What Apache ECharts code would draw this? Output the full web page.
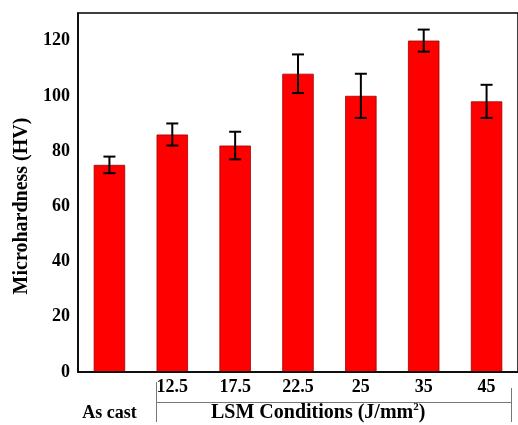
<!DOCTYPE html>
<html><head><meta charset="utf-8">
<script src="https://cdn.jsdelivr.net/npm/echarts@6/dist/echarts.min.js"></script>
<style>html,body{margin:0;padding:0;background:#fff}#c{width:518px;height:425px}</style>
</head><body><div id="c"></div>
<script>
var categories = ['As cast', '12.5', '17.5', '22.5', '25', '35', '45'];
var hardness = [75, 86, 82, 108, 100, 120, 98];
var errors = [3, 4, 5, 7, 8, 4, 6];
var yTicks = [0, 20, 40, 60, 80, 100, 120];

var chart = echarts.init(document.getElementById('c'), null, {renderer: 'canvas'});
var font = '"Liberation Serif", "Times New Roman", serif';
var errData = hardness.map(function (v, i) { return [i, v - errors[i], v + errors[i]]; });

chart.setOption({
  animation: false,
  backgroundColor: '#fff',
  grid: {left: 78, top: 13, width: 448, height: 359, show: true, borderColor: '#000', borderWidth: 1.5, backgroundColor: 'transparent'},
  xAxis: {
    type: 'category', data: categories, z: 5,
    axisLine: {lineStyle: {color: '#000', width: 1.5}},
    axisTick: {inside: true, alignWithLabel: true, interval: 0, length: 5, lineStyle: {color: '#000', width: 1.2}},
    axisLabel: {
      interval: 0, hideOverlap: false,
      color: '#000', fontFamily: font, fontWeight: 'bold', fontSize: 18, margin: 6,
      formatter: function (v, i) { return i === 0 ? '{a|' + v + '}' : v; },
      rich: {a: {fontFamily: font, fontWeight: 'bold', fontSize: 18, color: '#000', padding: [26, 0, 0, 0]}}
    }
  },
  yAxis: {
    type: 'value', min: 0, max: 130, interval: 20, z: 5,
    splitLine: {show: false},
    axisLine: {show: true, lineStyle: {color: '#000', width: 1.5}},
    axisTick: {inside: true, length: 5, lineStyle: {color: '#000', width: 1.2}},
    axisLabel: {
      color: '#000', fontFamily: font, fontWeight: 'bold', fontSize: 18, margin: 8,
      formatter: function (v) { return yTicks.indexOf(v) >= 0 ? String(v) : ''; }
    }
  },
  series: [{
    type: 'bar', data: hardness, barWidth: '50%',
    itemStyle: {color: '#ff0000', borderColor: '#a00000', borderWidth: 0.8}
  }, {
    type: 'custom', data: errData, z: 10,
    renderItem: function (params, api) {
      var x = api.value(0);
      var lo = api.coord([x, api.value(1)]);
      var hi = api.coord([x, api.value(2)]);
      var hw = 6;
      var st = {stroke: '#000', lineWidth: 2};
      return {type: 'group', children: [
        {type: 'line', shape: {x1: lo[0], y1: lo[1], x2: hi[0], y2: hi[1]}, style: st},
        {type: 'line', shape: {x1: hi[0] - hw, y1: hi[1], x2: hi[0] + hw, y2: hi[1]}, style: st},
        {type: 'line', shape: {x1: lo[0] - hw, y1: lo[1], x2: lo[0] + hw, y2: lo[1]}, style: st}
      ]};
    }
  }],
  graphic: [
    {type: 'text', x: 22, y: 206, rotation: Math.PI / 2, style: {
      text: 'Microhardness (HV)', fill: '#000', font: 'bold 20px ' + font,
      align: 'center', verticalAlign: 'middle'
    }},
    {type: 'line', shape: {x1: 156.5, y1: 382, x2: 156.5, y2: 422}, style: {stroke: '#777', lineWidth: 1}},
    {type: 'line', shape: {x1: 157, y1: 402.5, x2: 512, y2: 402.5}, style: {stroke: '#777', lineWidth: 1}},
    {type: 'line', shape: {x1: 511.5, y1: 388, x2: 511.5, y2: 422}, style: {stroke: '#777', lineWidth: 1}},
    {type: 'text', left: 211, top: 402, style: {
      text: '{t|LSM Conditions (J/mm}{s|2}{t|)}', fill: '#000',
      rich: {
        t: {fontFamily: font, fontWeight: 'bold', fontSize: 20, fill: '#000', verticalAlign: 'bottom'},
        s: {fontFamily: font, fontWeight: 'bold', fontSize: 11, fill: '#000', verticalAlign: 'top', padding: [0, 0, 10, 0]}
      }
    }}
  ]
});
</script></body></html>
